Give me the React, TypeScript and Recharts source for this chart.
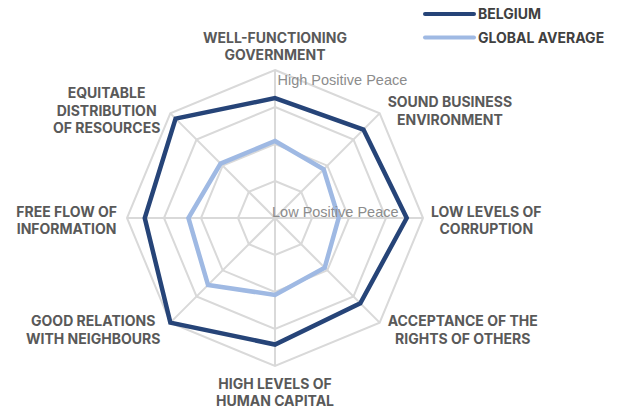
import React from "react";
import {
  RadarChart,
  Radar,
  PolarGrid,
  PolarAngleAxis,
  PolarRadiusAxis,
} from "recharts";

const pillars = [
  "WELL-FUNCTIONING\nGOVERNMENT",
  "SOUND BUSINESS\nENVIRONMENT",
  "LOW LEVELS OF\nCORRUPTION",
  "ACCEPTANCE OF THE\nRIGHTS OF OTHERS",
  "HIGH LEVELS OF\nHUMAN CAPITAL",
  "GOOD RELATIONS\nWITH NEIGHBOURS",
  "FREE FLOW OF\nINFORMATION",
  "EQUITABLE\nDISTRIBUTION\nOF RESOURCES",
];

const belgium = [3.24, 3.38, 3.56, 3.26, 3.42, 4.0, 3.52, 3.8];
const globalAverage = [2.08, 1.86, 1.72, 1.9, 2.08, 2.56, 2.34, 2.08];

const scaleLabels: Record<number, string> = {
  0: "Low Positive Peace",
  4: "High Positive Peace",
};

const series = [
  { key: "belgium", name: "BELGIUM", color: "#264478" },
  { key: "global", name: "GLOBAL AVERAGE", color: "#9fb9e3" },
];

const data = pillars.map((axis, i) => ({
  axis,
  belgium: belgium[i],
  global: globalAverage[i],
}));

const CX = 275;
const CY = 218;
const R = 148;
const LABEL_FONT = "Inter, 'Liberation Sans', Arial, sans-serif";
const LABEL_SIZE = 14;
const LINE_H = 17.5;

let ctx: CanvasRenderingContext2D | null = null;
const measure = (s: string) => {
  if (!ctx) ctx = document.createElement("canvas").getContext("2d");
  if (!ctx) return s.length * 9;
  ctx.font = `700 ${LABEL_SIZE}px ${LABEL_FONT}`;
  return ctx.measureText(s).width;
};

const AngleTick = (props: any) => {
  const { x, y, payload } = props;
  const lines: string[] = String(payload.value).split("\n");
  const dx = x - CX;
  const dy = y - CY;
  const len = Math.sqrt(dx * dx + dy * dy) || 1;
  const ux = dx / len;
  const uy = dy / len;
  const vx = CX + ux * R;
  const vy = CY + uy * R;
  const blockH = lines.length * LINE_H;
  const width = Math.max(...lines.map(measure));

  let centerX = vx;
  let top = vy - blockH / 2;
  if (ux > 0.3) {
    centerX = vx + 8 + width / 2;
    top = vy + uy * 7 + 2.5 - blockH / 2;
  } else if (ux < -0.3) {
    centerX = vx - 10 - width / 2;
    top = vy + uy * 7 + 2.5 - blockH / 2;
  } else if (uy < 0) {
    top = vy - 6 - blockH;
  } else {
    top = vy + 9;
  }

  return (
    <text
      textAnchor="middle"
      fontFamily={LABEL_FONT}
      fontWeight={700}
      fontSize={LABEL_SIZE}
      fill="#595959"
    >
      {lines.map((line, i) => (
        <tspan key={i} x={centerX} y={top + LINE_H * i + LINE_H / 2 + 5}>
          {line}
        </tspan>
      ))}
    </text>
  );
};

const RadiusTick = (props: any) => {
  const { x, y, payload } = props;
  const label = scaleLabels[payload.value];
  if (!label) return null;
  const top = payload.value > 0;
  return (
    <text
      x={top ? x + 2.5 : x - 3}
      y={top ? y + 15 : y - 1}
      fontFamily="'Liberation Sans', Arial, sans-serif"
      fontSize={14.5}
      fill="#8c8c8c"
    >
      {label}
    </text>
  );
};

const LegendBox = () => (
  <svg
    width={628}
    height={60}
    style={{ position: "absolute", left: 0, top: 0 }}
  >
    {series.map((s, i) => (
      <g key={s.key}>
        <line
          x1={425}
          x2={474}
          y1={14 + i * 23.5}
          y2={14 + i * 23.5}
          stroke={s.color}
          strokeWidth={4}
          strokeLinecap="round"
        />
        <text
          x={478}
          y={19 + i * 23.5}
          fontFamily={LABEL_FONT}
          fontWeight={700}
          fontSize={LABEL_SIZE}
          fill="#404040"
        >
          {s.name}
        </text>
      </g>
    ))}
  </svg>
);

export default function App() {
  return (
    <div
      style={{
        position: "absolute",
        left: 0,
        top: 0,
        width: 628,
        height: 409,
        background: "#fff",
      }}
    >
      <RadarChart
        width={628}
        height={409}
        data={data}
        cx={CX}
        cy={CY}
        outerRadius={R}
        margin={{ top: 0, right: 0, bottom: 0, left: 0 }}
      >
        <PolarGrid gridType="polygon" stroke="#d9d9d9" strokeWidth={2} />
        <PolarAngleAxis dataKey="axis" tick={AngleTick} tickLine={false} axisLine={false} />
        {series.map((s) => (
          <Radar
            key={s.key}
            dataKey={s.key}
            name={s.name}
            stroke={s.color}
            strokeWidth={4.5}
            fill="none"
            fillOpacity={0}
            dot={false}
            isAnimationActive={false}
          />
        ))}
        <PolarRadiusAxis
          angle={90}
          domain={[0, 4]}
          tickCount={5}
          axisLine={false}
          tick={RadiusTick}
        />
      </RadarChart>
      <LegendBox />
    </div>
  );
}
